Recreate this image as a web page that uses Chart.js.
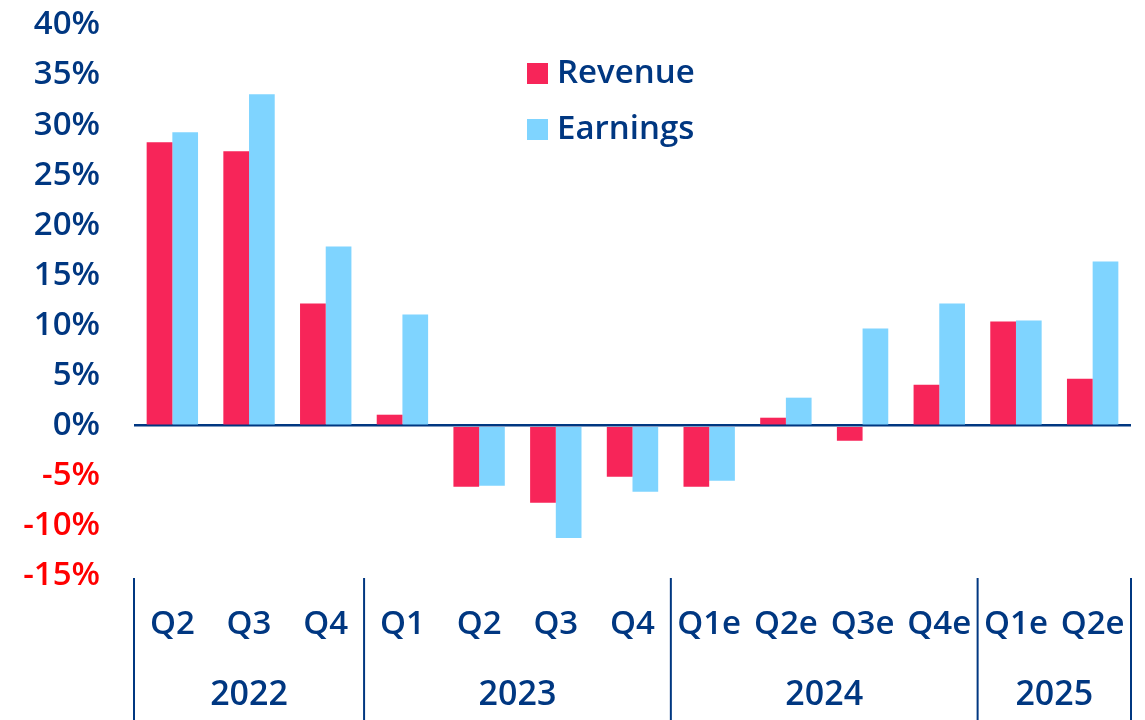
<!DOCTYPE html>
<html>
<head>
<meta charset="utf-8">
<script src="https://cdn.jsdelivr.net/npm/chart.js@4"></script>
<style>
  html, body { margin: 0; padding: 0; background: #fff; }
  #wrap { width: 1145px; height: 720px; }
</style>
</head>
<body>
<div id="wrap"><canvas id="chart"></canvas></div>
<script>
// quarters and the year each one belongs to
var quarters = ["Q2", "Q3", "Q4", "Q1", "Q2", "Q3", "Q4", "Q1e", "Q2e", "Q3e", "Q4e", "Q1e", "Q2e"];
var years = ["2022", "2023", "2024", "2025"];
var yearStart = [0, 3, 7, 11]; // first quarter index of each year

// growth in %
var revenue = [28.3, 27.4, 12.2, 1.1, -6.1, -7.7, -5.1, -6.1, 0.8, -1.5, 4.1, 10.4, 4.7];
var earnings = [29.3, 33.1, 17.9, 11.1, -6.0, -11.2, -6.6, -5.5, 2.8, 9.7, 12.2, 10.5, 16.4];

var navy = "#003781";
var red = "#F72559";
var sky = "#7FD4FF";
var fontFamily = "'Open Sans', sans-serif";

// year labels, group separators and the legend
var extras = {
    id: "extras",
    afterDraw: function(chart) {
        var ctx = chart.ctx;
        var x = chart.scales.x;
        var area = chart.chartArea;
        var half = (x.getPixelForValue(1) - x.getPixelForValue(0)) / 2;

        ctx.save();
        ctx.strokeStyle = navy;
        ctx.lineWidth = 2;
        var edges = yearStart.concat([quarters.length]);
        for (var i = 0; i < edges.length; i++) {
            var px = x.getPixelForValue(edges[i]) - half;
            ctx.beginPath();
            ctx.moveTo(px, area.bottom + 2);
            ctx.lineTo(px, chart.height);
            ctx.stroke();
        }

        ctx.fillStyle = navy;
        ctx.font = "600 34px " + fontFamily;
        ctx.textAlign = "center";
        ctx.textBaseline = "middle";
        for (var j = 0; j < years.length; j++) {
            var a = x.getPixelForValue(edges[j]) - half;
            var b = x.getPixelForValue(edges[j + 1]) - half;
            ctx.fillText(years[j], (a + b) / 2, 695);
        }

        // legend
        var sets = chart.data.datasets;
        ctx.textAlign = "left";
        ctx.font = "600 33px " + fontFamily;
        for (var k = 0; k < sets.length; k++) {
            var ly = 73 + k * 56;
            ctx.fillStyle = sets[k].backgroundColor;
            ctx.fillRect(527, ly - 10, 21, 21);
            ctx.fillStyle = navy;
            ctx.fillText(sets[k].label, 557, ly + 1);
        }
        ctx.restore();
    }
};

new Chart(document.getElementById("chart"), {
    type: "bar",
    data: {
        labels: quarters,
        datasets: [
            { label: "Revenue", data: revenue, backgroundColor: red, borderWidth: 0 },
            { label: "Earnings", data: earnings, backgroundColor: sky, borderWidth: 0 }
        ]
    },
    options: {
        responsive: true,
        maintainAspectRatio: false,
        animation: false,
        layout: { padding: { top: 25, right: 14, bottom: 0, left: 0 } },
        datasets: { bar: { categoryPercentage: 0.67, barPercentage: 1.0 } },
        plugins: { legend: { display: false }, tooltip: { enabled: false } },
        scales: {
            x: {
                grid: { display: false, drawTicks: false },
                border: { display: false },
                ticks: {
                    color: navy,
                    font: { family: fontFamily, size: 33, weight: "600" },
                    padding: 29,
                    autoSkip: false,
                    maxRotation: 0
                },
                afterFit: function(s) {
                    s.height = 144;
                    s.paddingLeft = 0;
                    s.paddingRight = 0;
                }
            },
            y: {
                min: -15,
                max: 40,
                grid: {
                    drawTicks: false,
                    lineWidth: 2.5,
                    color: function(c) { return c.tick && c.tick.value === 0 ? navy : "rgba(0,0,0,0)"; }
                },
                border: { display: false },
                ticks: {
                    stepSize: 5,
                    padding: 34,
                    font: { family: fontFamily, size: 33, weight: "600" },
                    color: function(c) { return c.tick.value < 0 ? "#FF0000" : navy; },
                    callback: function(v) { return v + "%"; }
                },
                afterFit: function(s) {
                    s.width = 134;
                    s.paddingTop = 0;
                    s.paddingBottom = 0;
                }
            }
        }
    },
    plugins: [extras]
});
</script>
</body>
</html>
